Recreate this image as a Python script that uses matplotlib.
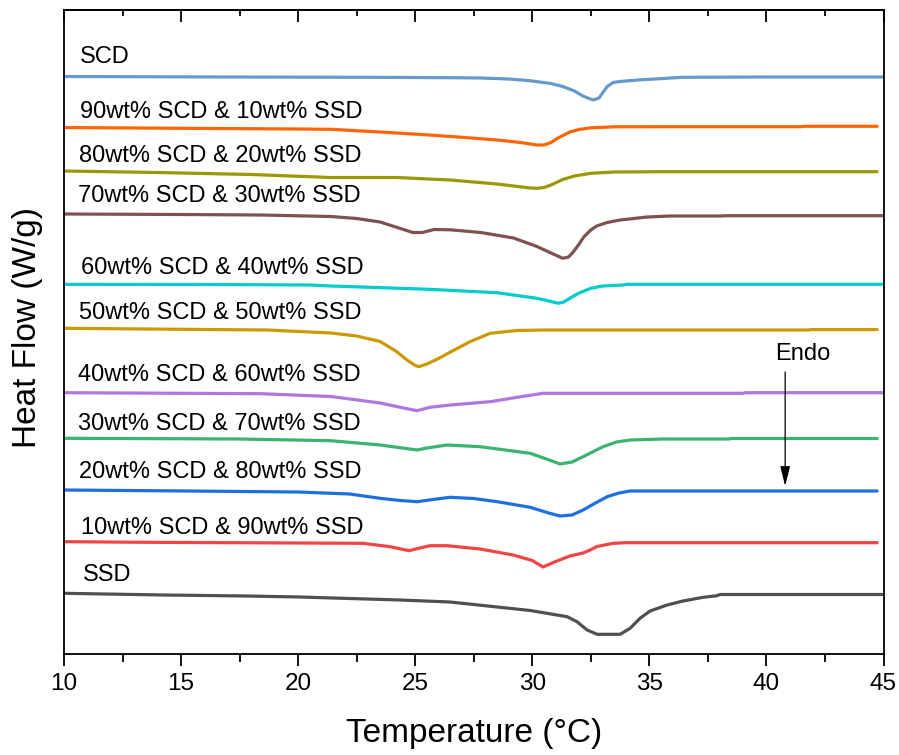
import matplotlib
matplotlib.use("Agg")
import matplotlib.pyplot as plt
from matplotlib.ticker import MultipleLocator

plt.rcParams['font.family'] = ['Liberation Sans', 'DejaVu Sans']

# ---- data: temperature (°C) and offset heat-flow trace (arbitrary offset units, endo down) ----
t_scd = [10.0, 17.0, 23.0, 26.5, 27.8, 29.0, 29.9, 30.8, 31.3, 31.8, 32.2, 32.6, 32.85, 33.0, 33.2, 33.45, 33.75, 34.5, 35.6, 36.4, 40.0, 45.0]
y_scd = [76.5, 77.0, 77.3, 77.7, 78.0, 79.0, 80.7, 83.5, 86.5, 91.0, 96.5, 100.0, 98.0, 93.0, 86.5, 82.5, 81.5, 80.0, 78.5, 77.3, 77.0, 77.0]

t_90 = [10.0, 15.0, 20.0, 21.4, 23.5, 25.6, 27.0, 28.5, 29.5, 30.2, 30.5, 30.8, 31.06, 31.6, 32.0, 32.5, 33.5, 35.6, 41.5, 41.6, 44.73]
y_90 = [127.5, 128.3, 129.0, 129.3, 132.0, 135.0, 137.3, 140.0, 142.5, 145.0, 145.0, 142.5, 138.5, 132.0, 129.5, 127.8, 126.8, 126.7, 126.7, 126.3, 126.3]

t_80 = [10.0, 14.0, 18.0, 21.4, 24.2, 26.5, 28.5, 29.9, 30.2, 30.5, 30.8, 31.3, 31.8, 32.5, 33.5, 35.6, 44.73]
y_80 = [171.0, 172.5, 174.5, 177.5, 177.5, 180.0, 184.0, 188.0, 188.3, 187.5, 185.0, 179.5, 176.0, 173.3, 172.0, 171.7, 171.7]

t_70 = [10.0, 15.0, 18.4, 21.4, 22.5, 23.5, 24.3, 24.9, 25.3, 25.8, 26.5, 27.8, 29.2, 30.2, 30.8, 31.3, 31.55, 31.75, 32.0, 32.2, 32.5, 32.75, 33.2, 33.75, 34.9, 35.9, 38.0, 38.3, 45.0]
y_70 = [214.0, 214.5, 215.0, 216.5, 218.5, 222.0, 228.0, 232.5, 232.5, 229.5, 229.8, 232.5, 238.0, 246.5, 253.0, 258.3, 257.0, 252.0, 244.0, 237.0, 230.0, 226.0, 222.5, 220.0, 217.0, 216.0, 216.0, 215.7, 215.7]

t_60 = [10.0, 16.0, 20.5, 21.4, 25.6, 28.5, 30.2, 30.8, 31.1, 31.35, 31.6, 32.0, 32.5, 33.0, 33.9, 34.05, 45.0]
y_60 = [284.3, 284.5, 285.0, 286.0, 289.3, 292.7, 298.3, 301.5, 303.3, 302.0, 298.3, 293.0, 288.3, 286.0, 285.0, 284.3, 284.3]

t_50 = [10.0, 13.55, 18.7, 21.4, 22.5, 23.5, 24.2, 24.65, 25.0, 25.16, 25.5, 26.0, 26.4, 27.34, 28.2, 29.35, 30.5, 41.8, 41.9, 44.73]
y_50 = [328.3, 329.0, 330.0, 333.0, 336.0, 341.5, 351.5, 360.0, 365.5, 366.7, 364.0, 358.5, 353.3, 341.7, 333.3, 330.5, 330.0, 330.0, 329.6, 329.6]

t_40 = [10.0, 18.4, 21.4, 23.5, 24.4, 25.08, 25.63, 26.5, 28.2, 29.35, 30.46, 39.0, 39.1, 45.0]
y_40 = [392.7, 393.7, 396.5, 403.0, 407.5, 410.7, 407.3, 405.0, 401.7, 397.3, 393.3, 393.3, 392.7, 392.7]

t_30 = [10.0, 17.5, 21.4, 23.5, 25.08, 25.5, 26.36, 27.77, 29.91, 30.6, 31.19, 31.7, 32.17, 33.02, 33.6, 34.18, 35.6, 38.4, 38.5, 44.73]
y_30 = [438.3, 439.0, 440.7, 445.0, 450.0, 448.0, 445.0, 446.7, 453.3, 459.0, 464.0, 462.0, 456.7, 446.7, 442.0, 440.0, 439.0, 439.0, 438.5, 438.5]

t_20 = [10.0, 15.25, 20.0, 22.2, 23.5, 24.35, 25.08, 25.6, 26.49, 27.5, 28.5, 29.91, 30.7, 31.19, 31.7, 32.17, 32.7, 33.2, 33.7, 34.18, 44.73]
y_20 = [490.0, 491.0, 492.0, 494.0, 498.3, 500.5, 501.7, 500.0, 497.3, 498.5, 501.7, 507.3, 513.0, 516.0, 515.0, 510.0, 503.0, 496.7, 493.0, 491.0, 491.0]

t_10 = [10.0, 13.55, 22.77, 23.93, 24.74, 25.2, 25.63, 26.36, 27.77, 29.18, 30.0, 30.46, 31.0, 31.61, 32.17, 32.47, 32.77, 33.45, 34.0, 44.73]
y_10 = [541.7, 542.3, 543.3, 546.7, 550.7, 548.0, 545.7, 545.7, 549.0, 555.0, 560.5, 567.0, 561.5, 556.0, 553.0, 550.0, 546.5, 543.3, 542.7, 542.7]

t_ssd = [10.0, 14.27, 17.8, 20.08, 22.2, 24.35, 26.49, 29.91, 31.49, 31.91, 32.34, 32.77, 33.75, 34.18, 34.6, 35.03, 35.76, 36.44, 37.3, 37.89, 38.02, 45.0]
y_ssd = [593.3, 595.0, 596.0, 597.0, 598.5, 600.0, 602.0, 610.5, 616.7, 621.7, 630.0, 634.3, 634.3, 628.3, 618.3, 611.0, 605.0, 601.0, 597.3, 595.7, 594.5, 594.5]

labels = ["SCD", "90wt% SCD & 10wt% SSD", "80wt% SCD & 20wt% SSD", "70wt% SCD & 30wt% SSD",
          "60wt% SCD & 40wt% SSD", "50wt% SCD & 50wt% SSD", "40wt% SCD & 60wt% SSD",
          "30wt% SCD & 70wt% SSD", "20wt% SCD & 80wt% SSD", "10wt% SCD & 90wt% SSD", "SSD"]
colors = ["#6699CC", "#FF6600", "#999900", "#7F5252", "#00CCCC", "#CC9900", "#B077E0",
          "#3CB371", "#1E6FE0", "#F24444", "#505050"]
label_x = [10.68, 10.68, 10.64, 10.58, 10.73, 10.64, 10.60, 10.60, 10.64, 10.73, 10.81]
label_y = [63.0, 118.0, 162.5, 201.5, 274.0, 319.0, 381.5, 430.0, 478.0, 534.0, 581.5]

series_t = [t_scd, t_90, t_80, t_70, t_60, t_50, t_40, t_30, t_20, t_10, t_ssd]
series_y = [y_scd, y_90, y_80, y_70, y_60, y_50, y_40, y_30, y_20, y_10, y_ssd]

fig = plt.figure(figsize=(8.99, 7.55), dpi=100)
ax = fig.add_axes([64/899, 1-654/755, (883.5-64)/899, (654-10)/755])

for t, y, c in zip(series_t, series_y, colors):
    ax.plot(t, y, color=c, lw=2.3, solid_joinstyle='round', solid_capstyle='round')

for lx, ly, lab in zip(label_x, label_y, labels):
    ax.text(lx, ly, lab, fontsize=17, ha='left', va='baseline', color='black')

# Endo arrow
ax.text(41.55, 360, "Endo", fontsize=17, ha='center', va='baseline')
ax.annotate("", xy=(40.8, 486), xytext=(40.8, 372),
            arrowprops=dict(arrowstyle='-|>,head_length=0.6,head_width=0.15',
                            color='black', lw=0.9, shrinkA=0, shrinkB=0,
                            mutation_scale=20))

ax.set_xlim(10, 45)
ax.set_ylim(654, 10)

ax.xaxis.set_major_locator(MultipleLocator(5))
ax.xaxis.set_minor_locator(MultipleLocator(2.5))
ax.tick_params(axis='x', which='major', direction='out', length=8.5, width=1.3,
               labelsize=17.5, pad=5, top=False)
ax.tick_params(axis='x', which='minor', direction='out', length=5.5, width=1.3, top=False)
ax.set_yticks([])
for s in ax.spines.values():
    s.set_linewidth(1.3)

sec = ax.secondary_xaxis('top')
sec.xaxis.set_major_locator(MultipleLocator(5))
sec.xaxis.set_minor_locator(MultipleLocator(2.5))
sec.tick_params(axis='x', which='major', direction='in', length=8.5, width=1.3, labeltop=False)
sec.tick_params(axis='x', which='minor', direction='in', length=4.2, width=1.3)
sec.spines['top'].set_linewidth(1.3)

ax.set_xlabel("Temperature (°C)", fontsize=24)
ax.xaxis.set_label_coords(0.5, -0.099)
ax.set_ylabel("Heat Flow (W/g)", fontsize=24)
ax.yaxis.set_label_coords(-0.026, 0.507)

fig.savefig("out.png", dpi=100)
